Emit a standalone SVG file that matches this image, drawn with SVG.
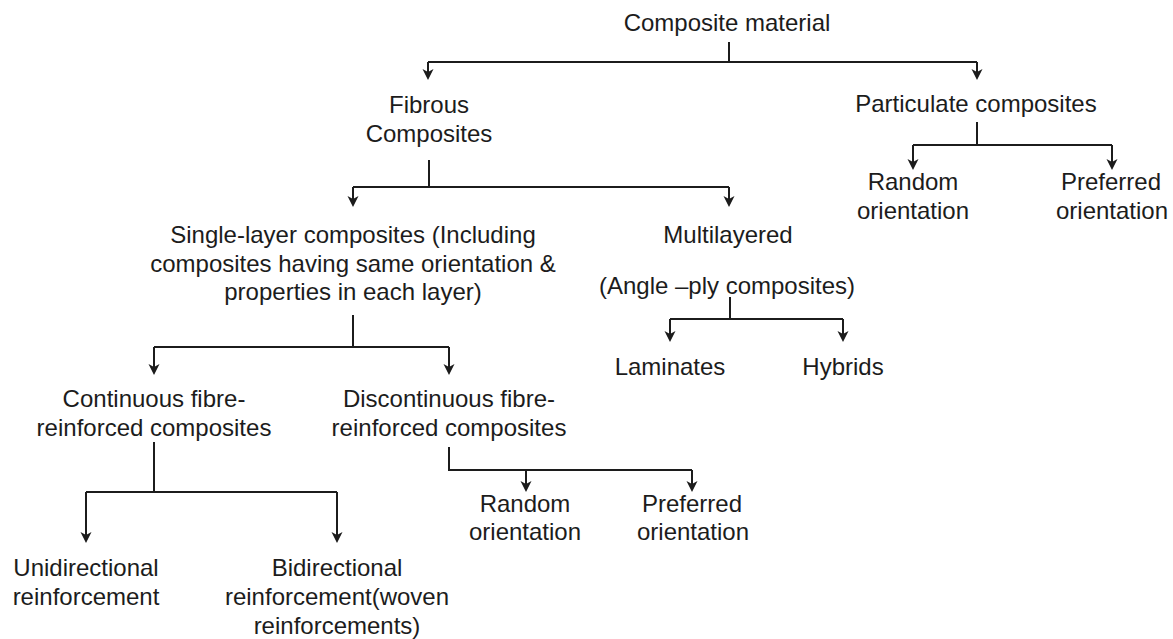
<svg xmlns="http://www.w3.org/2000/svg" width="1173" height="639" viewBox="0 0 1173 639">
  <style>
    text { font-family: "Liberation Sans", Arial, sans-serif; font-size: 24px; fill: #1c1c1c; text-anchor: middle; }
    .link { fill: none; stroke: #1c1c1c; stroke-width: 2; }
    .arrow { fill: none; stroke: #1c1c1c; stroke-width: 2; marker-end: url(#head); }
  </style>
  <defs>
    <marker id="head" markerUnits="userSpaceOnUse" markerWidth="20" markerHeight="20" refX="0" refY="0" orient="auto" overflow="visible">
      <path d="M5,0 L-6,-5.5 L-3,0 L-6,5.5 Z" fill="#1c1c1c"/>
    </marker>
  </defs>
  <rect width="1173" height="639" fill="#ffffff"/>

  <!-- connectors -->
  <g id="connectors">
    <!-- composite material -> fibrous / particulate -->
    <path class="link" d="M729,42 V62 M428,62 H977"/>
    <path class="arrow" d="M428,62 V75"/>
    <path class="arrow" d="M977,62 V75"/>
    <!-- fibrous -> single-layer / multilayered -->
    <path class="link" d="M429,160 V187 M353,187 H729"/>
    <path class="arrow" d="M353,187 V202"/>
    <path class="arrow" d="M729,187 V202"/>
    <!-- particulate -> random / preferred -->
    <path class="link" d="M977,122 V145 M913,145 H1112"/>
    <path class="arrow" d="M913,145 V165"/>
    <path class="arrow" d="M1112,145 V165"/>
    <!-- single-layer -> continuous / discontinuous -->
    <path class="link" d="M353,315 V347 M154,347 H449"/>
    <path class="arrow" d="M154,347 V370"/>
    <path class="arrow" d="M449,347 V370"/>
    <!-- angle-ply -> laminates / hybrids -->
    <path class="link" d="M730,297 V319 M670,319 H843"/>
    <path class="arrow" d="M670,319 V337"/>
    <path class="arrow" d="M843,319 V337"/>
    <!-- continuous -> unidirectional / bidirectional -->
    <path class="link" d="M154,442 V492 M86,492 H337"/>
    <path class="arrow" d="M86,492 V538"/>
    <path class="arrow" d="M337,492 V538"/>
    <!-- discontinuous -> random / preferred -->
    <path class="link" d="M449,447 V470 H692"/>
    <path class="arrow" d="M526,470 V487"/>
    <path class="arrow" d="M692,470 V487"/>
  </g>

  <!-- nodes -->
  <g id="composite-material"><text x="727" y="31">Composite material</text></g>
  <g id="fibrous"><text x="429" y="113">Fibrous</text><text x="429" y="142">Composites</text></g>
  <g id="particulate"><text x="976" y="112">Particulate composites</text></g>
  <g id="particulate-random"><text x="913" y="190">Random</text><text x="913" y="219">orientation</text></g>
  <g id="particulate-preferred"><text x="1111" y="190">Preferred</text><text x="1112" y="219">orientation</text></g>
  <g id="single-layer">
    <text x="353" y="243">Single-layer composites (Including</text>
    <text x="353" y="272">composites having same orientation &amp;</text>
    <text x="353" y="300">properties in each layer)</text>
  </g>
  <g id="multilayered"><text x="728" y="243">Multilayered</text><text x="727" y="294">(Angle –ply composites)</text></g>
  <g id="laminates"><text x="670" y="375">Laminates</text></g>
  <g id="hybrids"><text x="843" y="375">Hybrids</text></g>
  <g id="continuous"><text x="154" y="407">Continuous fibre-</text><text x="154" y="436">reinforced composites</text></g>
  <g id="discontinuous"><text x="449" y="407">Discontinuous fibre-</text><text x="449" y="436">reinforced composites</text></g>
  <g id="discontinuous-random"><text x="525" y="512">Random</text><text x="525" y="540">orientation</text></g>
  <g id="discontinuous-preferred"><text x="692" y="512">Preferred</text><text x="693" y="540">orientation</text></g>
  <g id="unidirectional"><text x="86" y="576">Unidirectional</text><text x="86" y="605">reinforcement</text></g>
  <g id="bidirectional">
    <text x="337" y="576">Bidirectional</text>
    <text x="337" y="605">reinforcement(woven</text>
    <text x="337" y="634">reinforcements)</text>
  </g>
</svg>
